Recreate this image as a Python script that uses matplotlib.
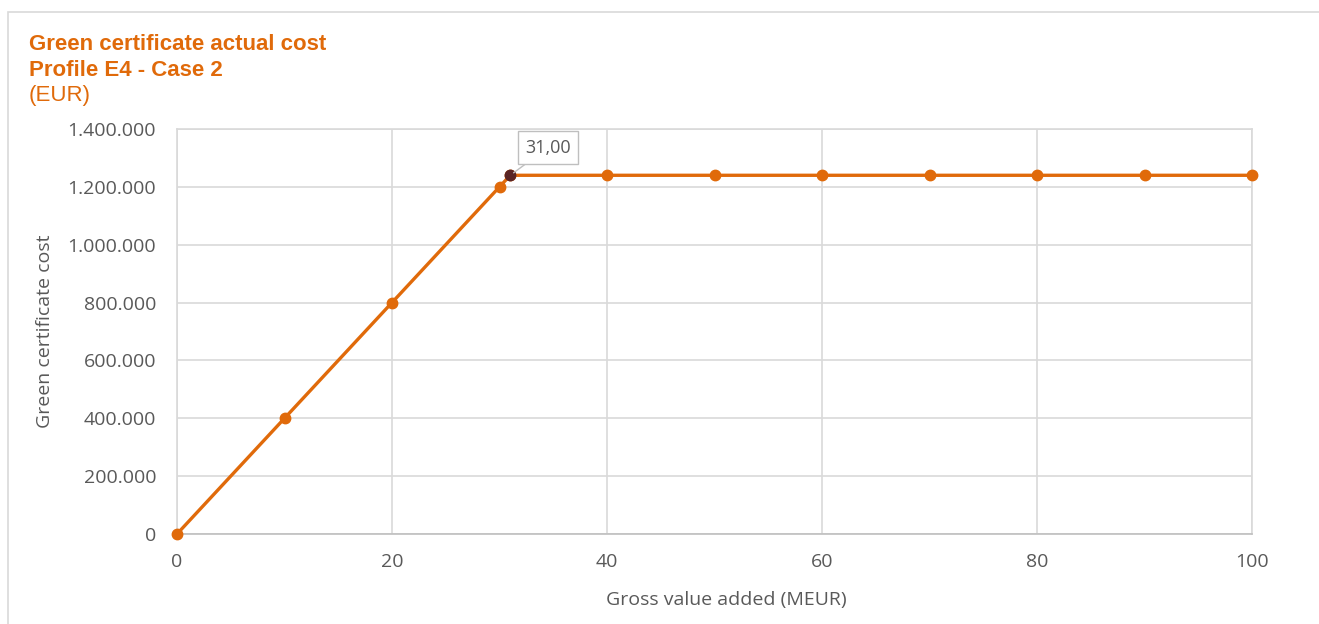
import matplotlib.pyplot as plt
from matplotlib.patches import Rectangle
from matplotlib.ticker import FuncFormatter

gva = [0, 10, 20, 30, 31, 40, 50, 60, 70, 80, 90, 100]
cost = [0, 400000, 800000, 1200000, 1240000, 1240000, 1240000, 1240000,
        1240000, 1240000, 1240000, 1240000]
label_x = 31
label_y = 1240000

orange = '#E06A0A'
grey_txt = '#595959'

fig = plt.figure(figsize=(13.19, 6.24), dpi=100)
ax = fig.add_axes([177 / 1319, 1 - 534 / 624, (1252 - 177) / 1319, (534 - 129) / 624])

# chart border (only top/left visible in the crop)
fig.patches.append(Rectangle((8 / 1319, -0.5), 2, 1.5 - 12 / 624, transform=fig.transFigure,
                             fill=False, edgecolor='#D9D9D9', linewidth=1.2))

ax.plot(gva, cost, color=orange, linewidth=2.4, marker='o', markersize=7.5, zorder=3, clip_on=False)
ax.plot([label_x], [label_y], 'o', color='#5A2424', markersize=7.5, zorder=4)

ax.annotate('31,00', xy=(label_x, label_y), xytext=(34.5, 1336000),
            ha='center', va='center', fontsize=13, family='Open Sans', color=grey_txt,
            bbox=dict(boxstyle='square,pad=0.4', fc='white', ec='#BFBFBF', lw=1),
            arrowprops=dict(arrowstyle='-', color='#BFBFBF', lw=1, shrinkA=0, shrinkB=3),
            zorder=5)

ax.set_xlim(0, 100)
ax.set_ylim(0, 1400000)
ax.set_xticks(range(0, 101, 20))
ax.set_yticks(range(0, 1400001, 200000))
ax.yaxis.set_major_formatter(FuncFormatter(lambda v, p: f'{int(v):,}'.replace(',', '.')))
ax.grid(True, color='#D9D9D9', linewidth=1.2)
ax.set_axisbelow(True)
for s in ['top', 'right', 'left']:
    ax.spines[s].set_color('#D9D9D9')
    ax.spines[s].set_linewidth(1.2)
ax.spines['bottom'].set_color('#BFBFBF')
ax.spines['bottom'].set_linewidth(1.2)
ax.tick_params(axis='y', length=0, labelsize=14, labelcolor=grey_txt, pad=15)
ax.tick_params(axis='x', length=0, labelsize=14, labelcolor=grey_txt, pad=14)
for lab in ax.get_xticklabels() + ax.get_yticklabels():
    lab.set_family('Open Sans')

ax.set_xlabel('Gross value added (MEUR)', fontsize=14, color=grey_txt, family='Open Sans')
ax.set_ylabel('Green certificate cost', fontsize=14, color=grey_txt, family='Open Sans')
ax.xaxis.set_label_coords(0.511, -0.141)
ax.yaxis.set_label_coords(-0.114, 0.5)

fig.text(29 / 1319, 1 - 44 / 624, 'Green certificate actual cost', fontsize=16, fontweight='bold',
         color=orange, family='Liberation Sans', va='center')
fig.text(29 / 1319, 1 - 70 / 624, 'Profile E4 - Case 2', fontsize=16, fontweight='bold',
         color=orange, family='Liberation Sans', va='center')
fig.text(29 / 1319, 1 - 96 / 624, '(EUR)', fontsize=16,
         color=orange, family='Liberation Sans', va='center')

fig.savefig('out.png', dpi=100)
